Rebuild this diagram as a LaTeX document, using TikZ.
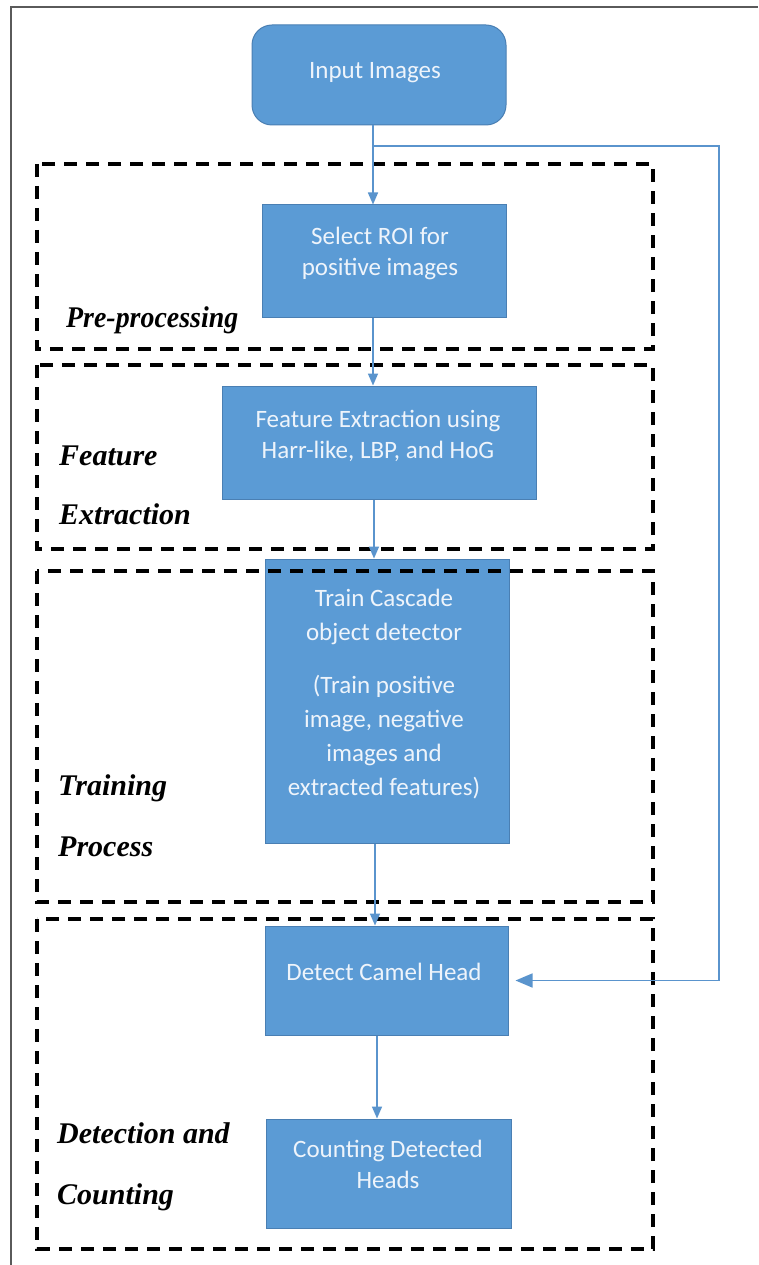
\documentclass[tikz,border=0pt]{standalone}
\usepackage{fontspec}
\setmainfont{Liberation Serif}
\newfontfamily\boxfont{Carlito}
\usetikzlibrary{arrows.meta}
\definecolor{stepblue}{HTML}{5B9BD5}
\definecolor{stepedge}{HTML}{4A7FB3}
\definecolor{steptext}{HTML}{EEF4FB}
\definecolor{flowblue}{HTML}{5A94CD}
\definecolor{framegray}{HTML}{5A5A5A}
\begin{document}
\begin{tikzpicture}[x=1pt,y=-1pt,
  stepbox/.style={draw=stepedge,line width=1pt,fill=stepblue,inner sep=0pt},
  steplabel/.style={font=\boxfont\fontsize{25}{31}\selectfont,text=steptext,align=center,inner sep=0pt},
  phase/.style={draw=black,line width=3.5pt,dash pattern=on 13pt off 9pt},
  phasename/.style={font=\fontsize{30}{36}\selectfont\bfseries\itshape,anchor=base west,inner sep=0pt},
  flow/.style={draw=flowblue,line width=1.6pt,-{Triangle[length=12pt,width=10pt]}},
  feed/.style={draw=flowblue,line width=1.6pt,-{Triangle[length=17pt,width=14pt]}}]
\useasboundingbox (0,0) rectangle (758,1265);
\fill[white] (0,0) rectangle (758,1265);
% outer frame
\draw[framegray,line width=2pt] (10.5,1265) -- (10.5,7) -- (758,7);

% process steps
\node[stepbox,rounded corners=20pt,minimum width=254pt,minimum height=100pt] (inp) at (379,75) {};
\node[stepbox,minimum width=244pt,minimum height=112pt] (roi) at (384,261) {};
\node[stepbox,minimum width=314pt,minimum height=113pt] (feat) at (379,442.5) {};
\node[stepbox,minimum width=244pt,minimum height=284pt] (train) at (387,701) {};
\node[stepbox,minimum width=243pt,minimum height=109pt] (detect) at (386.5,980.5) {};
\node[stepbox,minimum width=245pt,minimum height=109pt] (count) at (388.5,1173.5) {};

% step texts
\node[steplabel] (tinp) at (375,73) {Input Images};
\node[steplabel] (troi) at (380,253) {Select ROI for\\positive images};
\node[steplabel] (tfeat) at (378,436) {Feature Extraction using\\Harr-like, LBP, and HoG};
\node[steplabel,font=\boxfont\fontsize{25}{34}\selectfont] (ttrain) at (384,694)
  {Train Cascade\\object detector\\[19pt](Train positive\\image, negative\\images and\\extracted features)};
\node[steplabel] (tdetect) at (384,972) {Detect Camel Head};
\node[steplabel] (tcount) at (388,1164) {Counting Detected\\Heads};

% phase frames
\draw[phase] (37,164) rectangle (653,349);
\draw[phase] (37,365) rectangle (653,549);
\draw[phase] (37,571) rectangle (653,902);
\draw[phase] (37,919) rectangle (653,1249);

% phase names
\node[phasename] (pre) at (66,327) {\scalebox{0.93}[1]{Pre-processing}};
\node[phasename] (fe1) at (59,465) {Feature};
\node[phasename] (fe2) at (59,524) {Extraction};
\node[phasename] (tp1) at (58,795) {Training};
\node[phasename] (tp2) at (58,856) {Process};
\node[phasename] (dc1) at (57,1143) {Detection and};
\node[phasename] (dc2) at (57,1204) {Counting};

% connectors
\coordinate (split) at (373,146);
\coordinate (corner) at (719,146);
\draw[flow] (inp.south -| split) -- (roi.north -| split);
\draw[flow] (roi.south -| 373,0) -- (feat.north -| 373,0);
\draw[flow] (feat.south -| 374,0) -- (train.north -| 374,0);
\draw[flow] (train.south -| 375,0) -- (detect.north -| 375,0);
\draw[flow] (detect.south -| 377,0) -- (count.north -| 377,0);
\draw[feed,shorten >=7pt] (split) -- (corner) |- (detect.east);
\end{tikzpicture}
\end{document}
